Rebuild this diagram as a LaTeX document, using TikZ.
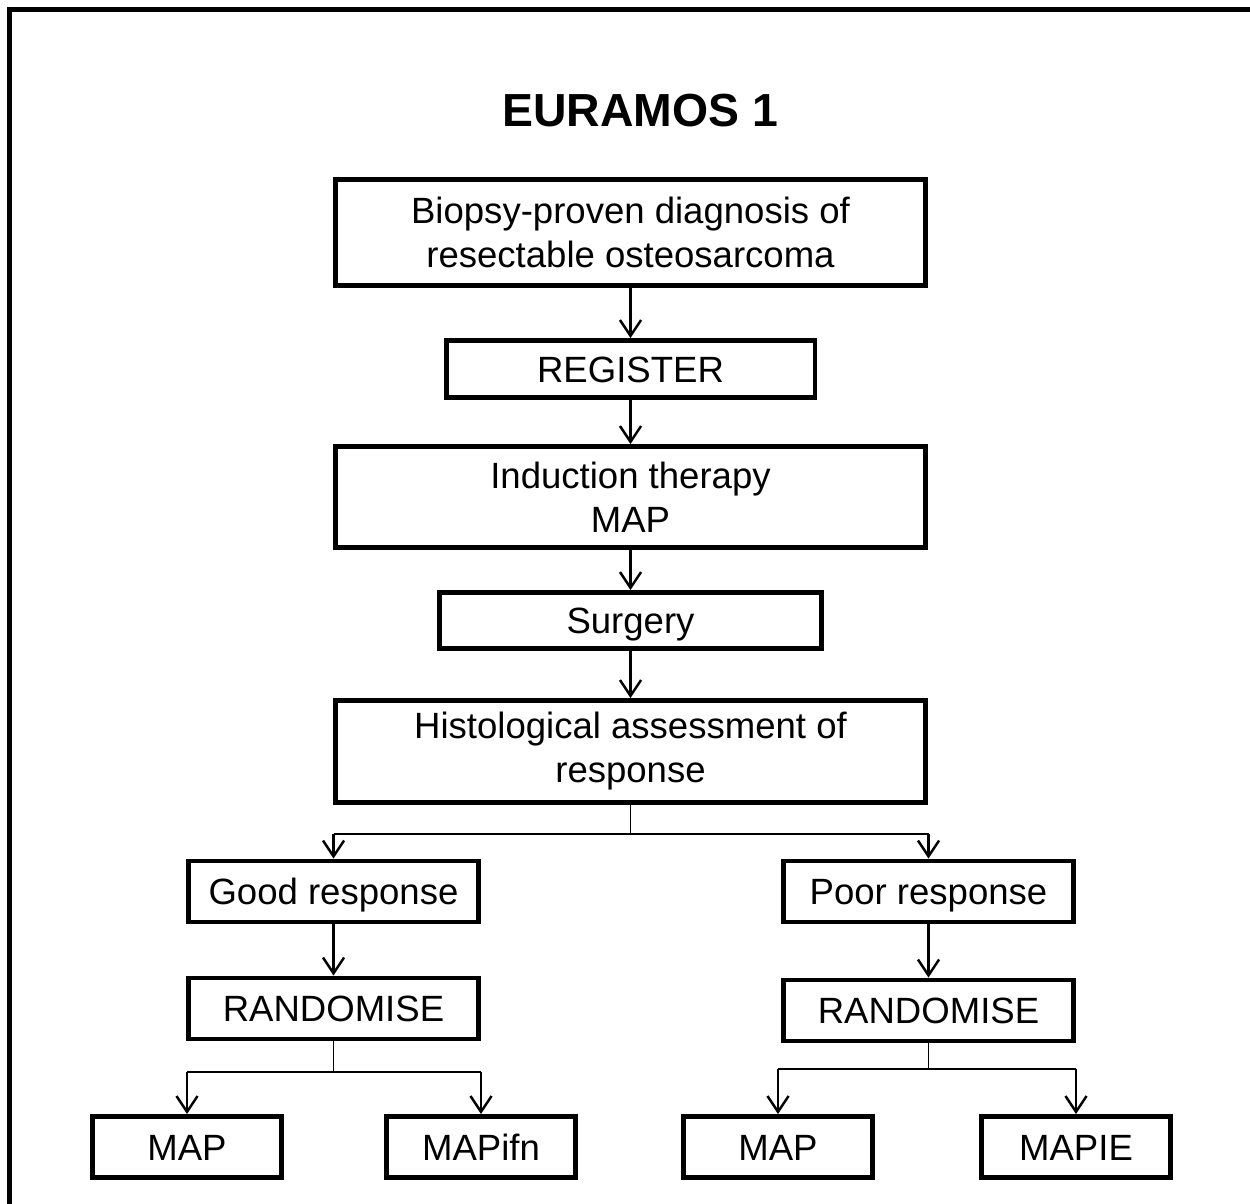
\documentclass[tikz,border=0pt]{standalone}
\usepackage{fontspec}
\setmainfont{Liberation Sans}
\usetikzlibrary{arrows.meta}

\tikzset{
  box/.style={draw, line width=2.8pt, align=center, inner sep=0pt, font=\fontsize{20.8}{25}\selectfont},
  onebox/.style={box, text height=15pt, text depth=0pt},
  bigbox/.style={box, minimum width=11.8cm},
  armbox/.style={onebox, minimum width=5.8cm, minimum height=1.22cm},
  endbox/.style={onebox, minimum width=3.78cm, minimum height=1.22cm},
  arr/.style={-{Straight Barb[length=9pt,width=12pt]}, line width=1.4pt},
  splitline/.style={line width=0.8pt},
  frameline/.style={line width=2.8pt}
}

\begin{document}
\begin{tikzpicture}[x=0.02cm,y=-0.02cm]
\clip (0,0) rectangle (1250,1203);
\draw[frameline] (9.5,1260) -- (9.5,9.5) -- (1300,9.5); %%Frame

\node[font=\fontsize{26.4}{30}\selectfont\bfseries] (title) at (640,111) {EURAMOS 1};

\node[bigbox, minimum height=2.12cm] (biopsy) at (630.5,232.5) {Biopsy-proven diagnosis of\\resectable osteosarcoma};
\node[onebox, minimum width=7.38cm, minimum height=1.14cm] (register) at (630.5,369) {REGISTER};
\node[bigbox, minimum height=2.02cm] (induction) at (630.5,497) {Induction therapy\\MAP};
\node[onebox, minimum width=7.64cm, minimum height=1.12cm] (surgery) at (630.5,620.5) {Surgery};
\node[bigbox, minimum height=2.04cm] (histology) at (630.5,751.5) {Histological assessment of\\response};

\node[armbox] (good) at (333.5,891.5) {Good response};
\node[armbox] (poor) at (928.5,891.5) {Poor response};
\node[armbox] (randL) at (333.5,1008.5) {RANDOMISE};
\node[armbox] (randR) at (928.5,1010.5) {RANDOMISE};

\node[endbox] (mapL) at (187,1147) {MAP};
\node[endbox] (mapifn) at (481,1147) {MAPifn};
\node[endbox] (mapR) at (778,1147) {MAP};
\node[endbox] (mapie) at (1076,1147) {MAPIE};

%%Main column
\draw[arr] (biopsy) -- (register);
\draw[arr] (register) -- (induction);
\draw[arr] (induction) -- (surgery);
\draw[arr] (surgery) -- (histology);

%%Response split
\coordinate (hsplit) at (630.5,834);
\draw[splitline] (histology.south) -- (hsplit);
\draw[splitline] (good.north |- hsplit) -- (poor.north |- hsplit);
\draw[arr] (good.north |- hsplit) -- (good.north);
\draw[arr] (poor.north |- hsplit) -- (poor.north);

\draw[arr] (good) -- (randL);
\draw[arr] (poor) -- (randR);

%%Left randomisation
\coordinate (lsplit) at (333.5,1072);
\draw[splitline] (randL.south) -- (lsplit);
\draw[splitline] (mapL.north |- lsplit) -- (mapifn.north |- lsplit);
\draw[arr] (mapL.north |- lsplit) -- (mapL.north);
\draw[arr] (mapifn.north |- lsplit) -- (mapifn.north);

%%Right randomisation
\coordinate (rsplit) at (928.5,1069);
\draw[splitline] (randR.south) -- (rsplit);
\draw[splitline] (mapR.north |- rsplit) -- (mapie.north |- rsplit);
\draw[arr] (mapR.north |- rsplit) -- (mapR.north);
\draw[arr] (mapie.north |- rsplit) -- (mapie.north);

\end{tikzpicture}
\end{document}
